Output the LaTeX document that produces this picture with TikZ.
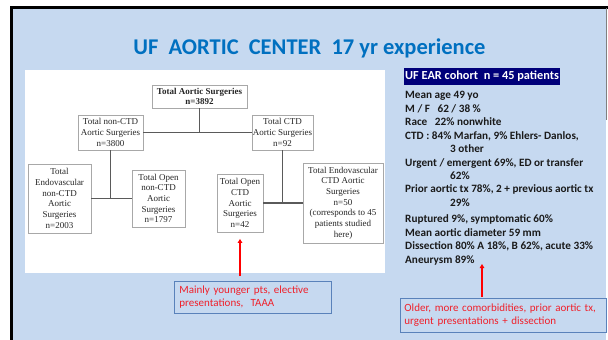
\documentclass[tikz,border=0pt]{standalone}
\usepackage{fontspec}
\setmainfont{Liberation Serif}
\newfontfamily\calfont{Carlito}
\usetikzlibrary{arrows.meta,calc}
\definecolor{bgblue}{HTML}{C6D9F0}
\definecolor{titleblue}{HTML}{0070C0}
\definecolor{navy}{HTML}{00007A}
\definecolor{boxgray}{HTML}{A8A8A8}
\definecolor{linegray}{HTML}{5A5A5A}
\definecolor{notered}{HTML}{F0202A}
\definecolor{noteblue}{HTML}{5A82BA}
\definecolor{txt}{HTML}{1A1A1A}
\tikzset{
  chartbox/.style={draw=boxgray, line width=0.8pt, fill=white, align=center, inner sep=0pt,
    font=\fontsize{9}{10.7}\selectfont, text=black!85},
  conn/.style={draw=linegray, line width=1.3pt},
  infoline/.style={anchor=base west, inner sep=0pt, font=\calfont\bfseries\fontsize{11.2}{12}\selectfont, text=txt},
  notebox/.style={draw=noteblue, line width=0.9pt, fill=bgblue, align=left, anchor=north west,
    inner sep=0pt, font=\calfont\fontsize{11}{13}\selectfont, text=notered},
  redarrow/.style={draw=red, line width=1.4pt, -{Triangle[length=4pt,width=4.5pt]}}
}
\begin{document}
\begin{tikzpicture}[x=1pt,y=-1pt]
\useasboundingbox (0,0) rectangle (608,340);
\fill[white] (0,0) rectangle (608,340);
\fill[bgblue] (13,8) rectangle (606,340);
\draw[black, line width=3pt] (11.5,340) -- (11.5,7.2) -- (608,7.2);
\draw[gray, line width=0.6pt] (606.5,8) -- (606.5,120);

% title
\node[font=\calfont\bfseries\fontsize{22.5}{26}\selectfont, text=titleblue, inner sep=0pt] (title) at (309.5,48)
  {UF\ \ AORTIC\ \ CENTER\ \ 17 yr experience};

% chart area
\fill[white] (25,70) rectangle (385,273);

\node[chartbox, minimum width=95pt, minimum height=23pt] (top) at (199.5,96.5)
  {\bfseries Total Aortic Surgeries\\\bfseries n=3892};
\node[chartbox, minimum width=65pt, minimum height=35pt] (nonctd) at (110.5,132.5)
  {Total non-CTD\\Aortic Surgeries\\n=3800};
\node[chartbox, minimum width=61pt, minimum height=35pt] (ctd) at (282.5,132.5)
  {Total CTD\\Aortic Surgeries\\n=92};
\node[chartbox, minimum width=63pt, minimum height=69pt] (endonon) at (59.5,198.5)
  {Total\\Endovascular\\non-CTD\\Aortic\\Surgeries\\n=2003};
\node[chartbox, minimum width=53pt, minimum height=57pt] (opennon) at (158.5,198.5)
  {Total Open\\non-CTD\\Aortic\\Surgeries\\n=1797};
\node[chartbox, minimum width=46pt, minimum height=58pt] (openctd) at (240,203)
  {Total Open\\CTD\\Aortic\\Surgeries\\n=42};
\node[chartbox, minimum width=80pt, minimum height=80pt] (endoctd) at (343,203)
  {Total Endovascular\\CTD Aortic\\Surgeries\\n=50\\(corresponds to 45\\patients studied\\here)};

\draw[conn] (top.south) -- (top.south |- nonctd.east);
\draw[conn] (nonctd.east) -- (ctd.west);
\draw[conn] (nonctd.south) -- (nonctd.south |- endonon.east);
\draw[conn] (endonon.east) -- (opennon.west);
\draw[conn] (ctd.south) -- (ctd.south |- openctd.east);
\draw[conn] (openctd.east) -- (endoctd.west);

% right panel
\node[fill=navy, text=white, font=\calfont\bfseries\fontsize{12.3}{14}\selectfont, anchor=west,
  minimum height=17pt, inner xsep=1pt, inner ysep=0pt] (cohort) at (404,76.5)
  {UF EAR cohort\ \ n = 45 patients};
\node[infoline] (l1) at (405,98) {Mean age 49 yo};
\node[infoline] (l2) at (405,112) {M / F\ \ \ 62 / 38 \%};
\node[infoline] (l3) at (405,125.5) {Race\ \ \ 22\% nonwhite};
\node[infoline] (l4) at (405,139) {CTD : 84\% Marfan, 9\% Ehlers- Danlos,};
\node[infoline] (l5) at (450,152.5) {3 other};
\node[infoline] (l6) at (405,166) {Urgent / emergent 69\%, ED or transfer};
\node[infoline] (l7) at (450,179.5) {62\%};
\node[infoline] (l8) at (405,192.5) {Prior aortic tx 78\%, 2 + previous aortic tx};
\node[infoline] (l9) at (450,206) {29\%};
\node[infoline] (l10) at (405,222) {Ruptured 9\%, symptomatic 60\%};
\node[infoline] (l11) at (405,236) {Mean aortic diameter 59 mm};
\node[infoline] (l12) at (405,249.5) {Dissection 80\% A 18\%, B 62\%, acute 33\%};
\node[infoline] (l13) at (405,263) {Aneurysm 89\%};

% notes
\node[notebox, minimum width=152pt, minimum height=32pt, text width=147pt, inner xsep=5pt] (note1) at (174,281)
  {Mainly younger pts, elective\\presentations,\ \ TAAA};
\node[notebox, minimum width=202pt, minimum height=34pt, text width=198pt, inner xsep=4pt] (note2) at (400,298)
  {Older, more comorbidities, prior aortic tx,\\urgent presentations + dissection};

\draw[redarrow, shorten <=5pt, shorten >=6.5pt] (openctd.south |- note1.north) -- (openctd.south);
\coordinate (a2tip) at (482,264);
\draw[redarrow, shorten <=1pt] (a2tip |- note2.north) -- (a2tip);
\end{tikzpicture}
\end{document}
